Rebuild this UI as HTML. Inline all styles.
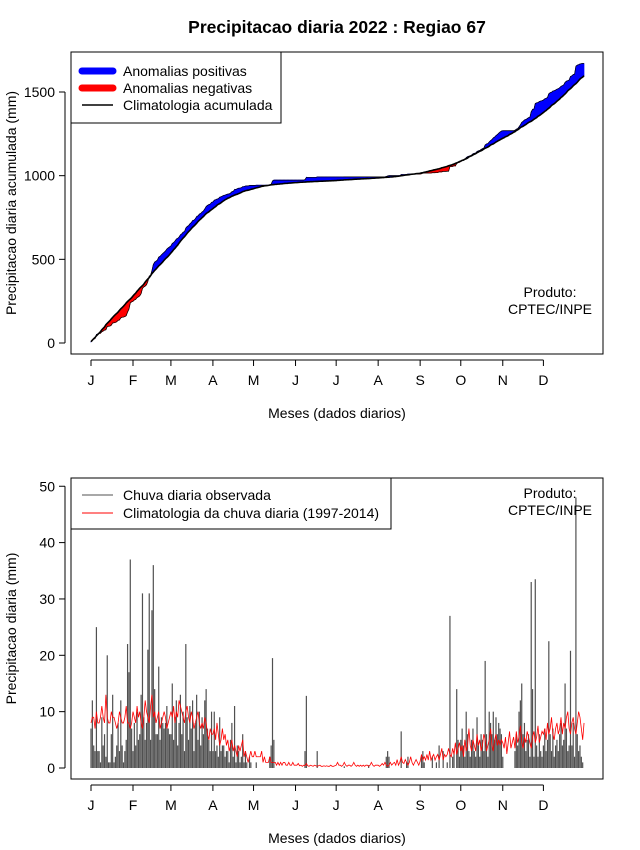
<!DOCTYPE html>
<html><head><meta charset="utf-8"><style>
body{margin:0;background:#fff}
svg{display:block;font-family:"Liberation Sans",Arial,sans-serif}
</style></head><body>
<svg id="c" width="640" height="850" viewBox="0 0 640 850">
<text x="337" y="33" text-anchor="middle" font-size="17.5" font-weight="bold">Precipitacao diaria 2022 : Regiao 67</text>
</svg>
<script>
const months=["J","F","M","A","M","J","J","A","S","O","N","D"];
const monthStart=[0,31,59,90,120,151,181,212,243,273,304,334];
const topTicks=[0,500,1000,1500];
const botTicks=[0,10,20,30,40,50];
const obsJan=[7,12,4,3,25,3,3,1,9,4,6,2,20,1,1,6,13,1,2,4,8,3,12,4,1,3,5,22,17,37,7];
const obsFeb=[3,8,4,10,5,6,13,31,9,5,8,21,31,5,28,36,14,6,6,18,5,9,8,7,8,11,7,6];
const obsMar=[6,15,5,9,12,4,8,13,6,10,3,22,9,5,11,7,12,3,8,13,5,10,4,9,6,12,14,7,5,3,10];
const obsApr=[3,10,3,4,2,9,3,4,4,2,3,3,1,5,8,2,11,1,4,3,1,2,6,1,3,1,0,2,1,0];
const obsMay=[0,0,1,0,0,0,0,0,0,0,0,0,2,4,19.5,5,0,0,0,0,0,0,0,0,0,0,0,0,0,0,0];
const obsJun=[0,0,0,0,0,0,0,3,12.8,0,0,0,0,0,0,0,3,0,0,0,0,0,0,0,0,0,0,0,0,0];
const obsJul=[0,0,0,0,0,0,0.3,0,0,0,0,0,0,0,0,0,0,0,0,0,0,0,0,0,0.5,0,0,0,0,0,0];
const obsAug=[0,0,0,0,0,0,2,3,2,0,0,0,0,0,0,0,0,6.5,0,0,0,1,2,0,0,0,0,0,0,0,0];
const obsSep=[0,2,3,1,0,0,0,0,0,2,0,0,1,0,4,0,0,3,0,0,1,0,27,0,2,3,0,14,5,2];
const obsOct=[5,7,4,2,10,6,3,2,5,7,3,2,9,4,2,6,5,3,19,6,2,10,8,6,10,5,9,6,8,7,6];
const obsNov=[2,0,0,0,0,0,0,0,0,3,6,4,10,12,15,6,8,3,5,6,2,33,14,2,33.5,4,2,6,3,2];
const obsDec=[4,7,3,5,22.5,6,3,7,2,4,5,3,6,8,4,5,15,7,3,4,20.8,4,8,2,48,6,3,4,2,1,0];
const cliJan=[8,9,9,7,10,8,8,9,11,9,8,13,9,8,8,10,9,9,8,7,8,10,9,8,8,9,11,8,8,7,8];
const cliFeb=[10,9,8,11,9,10,8,7,9,12,10,9,8,11,13,9,10,8,9,10,7,8,9,10,9,7,8,9];
const cliMar=[10,9,11,8,10,9,12,11,10,9,8,10,11,9,8,10,9,7,8,9,10,8,7,8,7,9,8,6,5,7,6];
const cliApr=[6,7,5,8,6,4,5,7,5,6,4,5,3,4,5,3,4,3,2,4,3,4,5,2,3,2,1,2,3,2];
const cliMay=[2,3,2,2,2,2,3,1,2,1,1,1,2,1,1,1,1,0.5,1,0.5,1,0.5,1,1,0.5,0.5,1,0.5,0.5,1,0.5];
const cliJun=[0.5,0.5,0.8,0.4,0.5,0.3,0.5,0.4,0.8,0.4,0.3,0.5,0.4,0.3,0.5,0.4,0.3,0.4,0.5,0.3,0.3,0.4,0.3,0.4,0.3,0.3,0.5,0.3,0.3,0.4];
const cliJul=[0.5,1,0.5,0.5,0.3,0.5,1,0.5,0.3,0.5,0.5,0.3,0.5,1,0.5,0.3,0.5,0.3,0.5,0.3,0.5,0.3,0.5,0.5,0.3,0.5,1,0.5,0.3,0.5,0.5];
const cliAug=[0.5,0.3,0.5,0.8,0.5,1,0.5,0.3,0.5,1,0.5,0.8,1,0.5,1.5,0.5,1,2,1,0.8,1.5,1,0.5,1,2,1,0.5,1,1.5,1,0.5];
const cliSep=[1.2,2.4,1.4,2,1.4,2.4,1.4,3,1.4,2,2.4,1.4,2,2.4,1.4,2.4,3.5,1.4,2.4,2,2.4,3.5,2.4,2,3.5,2.4,4.5,2.4,3.5,4.5];
const cliOct=[3,4,2,5,3,4,7,4,3,5,4,3,6,4,5,3,4,6,5,3,4,5,7,4,3,5,6,4,5,4,5];
const cliNov=[4.5,3.5,5.5,2.5,4.5,6.5,3.5,4.5,5.5,3.5,6.5,4.5,5.5,7.5,4.5,3.5,5.5,4.5,6.5,5.5,4.5,3.5,5.5,6.5,4.5,5.5,7.5,4.5,5.5,6.5];
const cliDec=[6,7,5,8,6,7,9,6,5,7,8,6,7,9,6,8,7,9,10,7,6,8,9,7,6,8,10,9,7,5,8];

const obs=[].concat(obsJan,obsFeb,obsMar,obsApr,obsMay,obsJun,obsJul,obsAug,obsSep,obsOct,obsNov,obsDec);
const cli=[].concat(cliJan,cliFeb,cliMar,cliApr,cliMay,cliJun,cliJul,cliAug,cliSep,cliOct,cliNov,cliDec);
const svg=document.getElementById('c');
const NS='http://www.w3.org/2000/svg';
function mk(t,a,p){const e=document.createElementNS(NS,t);for(const k in a)e.setAttribute(k,a[k]);(p||svg).appendChild(e);return e;}
const xs=d=>91+d*1.3545;
const yTop=v=>343-v*0.16733;
const yBot=v=>768-v*5.635;
const FS='14';

const cObs=[],cCli=[];let a=0,b=0;
for(let i=0;i<obs.length;i++){a+=obs[i];b+=cli[i];cObs.push(a);cCli.push(b);}

const gTop=mk('g',{});


for(let i=0;i<cObs.length-1;i++){
  const up=(cObs[i]+cObs[i+1])>=(cCli[i]+cCli[i+1]);
  const p=mk('polygon',{points:`${xs(i)},${yTop(cObs[i])} ${xs(i+1)},${yTop(cObs[i+1])} ${xs(i+1)},${yTop(cCli[i+1])} ${xs(i)},${yTop(cCli[i])}`,fill:up?'#0000ff':'#ff0000',stroke:up?'#0000ff':'#ff0000','stroke-width':'0.6'},gTop);
  
  
}
const lo=mk('polyline',{points:cObs.map((v,i)=>xs(i)+','+yTop(v)).join(' '),fill:'none',stroke:'#000','stroke-width':'0.7'},gTop);


const lc=mk('polyline',{points:cCli.map((v,i)=>xs(i)+','+yTop(v)).join(' '),fill:'none',stroke:'#000','stroke-width':'1.6'},gTop);



function frame(y0,y1,ticks,yf,ylab){
  const r=mk('rect',{x:71,y:y0,width:532,height:y1-y0,fill:'none',stroke:'#000'});
  
  
  mk('line',{x1:65,x2:65,y1:yf(ticks[0]),y2:yf(ticks[ticks.length-1]),stroke:'#000'});
  ticks.forEach(t=>{
    mk('line',{x1:59,x2:65,y1:yf(t),y2:yf(t),stroke:'#000'});
    const tx=mk('text',{x:55,y:yf(t)+5,'text-anchor':'end','font-size':FS});tx.textContent=t;
    
    
  });
  const ax=y1+6;
  mk('line',{x1:xs(monthStart[0]),x2:xs(monthStart[11]),y1:ax,y2:ax,stroke:'#000'});
  months.forEach((m,i)=>{
    const x=xs(monthStart[i]);
    mk('line',{x1:x,x2:x,y1:ax,y2:ax+6,stroke:'#000'});
    const tx=mk('text',{x:x,y:ax+25,'text-anchor':'middle','font-size':FS});tx.textContent=m;
    
    
  });
  const xl=mk('text',{x:337,y:y1+64,'text-anchor':'middle','font-size':FS});xl.textContent='Meses (dados diarios)';
  
  
  const yc=(y0+y1)/2;
  const yl=mk('text',{x:16,y:yc,'text-anchor':'middle','font-size':FS,transform:`rotate(-90 16 ${yc})`});yl.textContent=ylab;
  
  
}
frame(52,354,topTicks,yTop,'Precipitacao diaria acumulada (mm)');

const lg=mk('g',{});


mk('rect',{x:71,y:52,width:210,height:71,fill:'#fff',stroke:'#000'},lg);
[['#0000ff',7,'Anomalias positivas'],['#ff0000',7,'Anomalias negativas'],['#000',1.5,'Climatologia acumulada']].forEach((e,i)=>{
  const y=71+i*17;
  mk('line',{x1:82,x2:113,y1:y,y2:y,stroke:e[0],'stroke-width':e[1],'stroke-linecap':e[1]>2?'round':'butt'},lg);
  const t=mk('text',{x:123,y:y+5,'font-size':FS},lg);t.textContent=e[2];
  
  
});
const p1=mk('text',{x:550,y:297,'text-anchor':'middle','font-size':FS});p1.textContent='Produto:';


const p2=mk('text',{x:550,y:314,'text-anchor':'middle','font-size':FS});p2.textContent='CPTEC/INPE';



frame(478,779,botTicks,yBot,'Precipitacao diaria (mm)');
const gB=mk('g',{});


obs.forEach((v,i)=>{
  if(v<=0)return;
  const l=mk('line',{x1:xs(i),x2:xs(i),y1:yBot(0),y2:yBot(v),stroke:'#505050','stroke-width':'1.2'},gB);
  
  
});
const cl=mk('polyline',{points:cli.map((v,i)=>xs(i)+','+yBot(v)).join(' '),fill:'none',stroke:'#ff0000','stroke-width':'0.8'},gB);


const lg2=mk('g',{});


mk('rect',{x:71,y:478,width:320,height:51,fill:'#fff',stroke:'#000'},lg2);
[['#505050','Chuva diaria observada'],['#ff0000','Climatologia da chuva diaria (1997-2014)']].forEach((e,i)=>{
  const y=495+i*18;
  mk('line',{x1:82,x2:113,y1:y,y2:y,stroke:e[0]},lg2);
  const t=mk('text',{x:123,y:y+5,'font-size':FS},lg2);t.textContent=e[1];
  
  
});
const p3=mk('text',{x:550,y:498,'text-anchor':'middle','font-size':FS});p3.textContent='Produto:';


const p4=mk('text',{x:550,y:515,'text-anchor':'middle','font-size':FS});p4.textContent='CPTEC/INPE';


</script>
</body></html>
